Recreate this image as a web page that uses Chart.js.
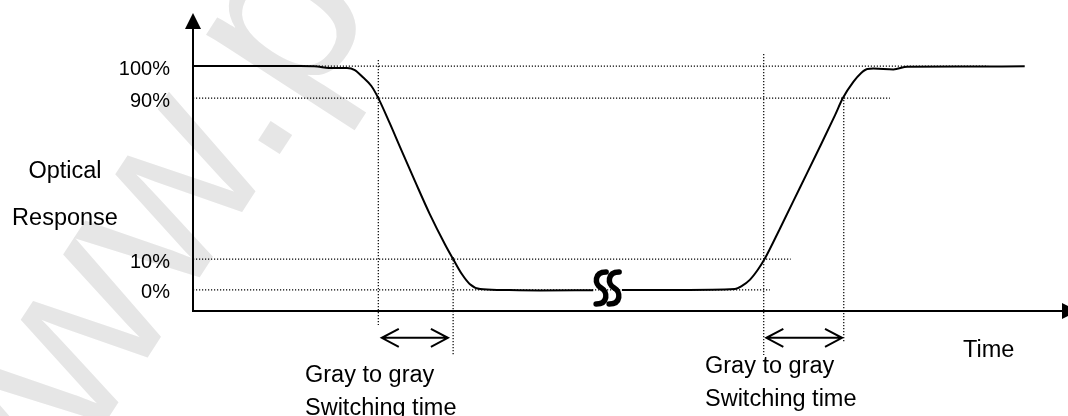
<!DOCTYPE html>
<html lang="en">
<head>
<meta charset="UTF-8">
<title>Optical response - gray to gray switching time</title>
<script src="https://cdn.jsdelivr.net/npm/chart.js@4/dist/chart.umd.min.js"></script>
<style>
    html, body { margin: 0; padding: 0; background: #fff; }
    #wrap { width: 1068px; height: 416px; position: relative; }
</style>
</head>
<body>
<div id="wrap"><canvas id="chartResponse"></canvas></div>
<script>
    // time in arbitrary units (0..100), response in diagram units (not to scale)
    const timeX = [0, 6.6, 12.3, 14.3, 15.6, 17.7, 18.6, 19.5, 20.5, 21.3, 22.6, 23.8, 25.5, 27.2, 29.0, 29.9, 30.9, 31.8, 33.0, 35.3, 39.9, 46.0,
                   47.6,
                   49.3, 56.0, 62.3, 63.1, 64.0, 64.9, 65.7, 67.5, 69.8, 72.1, 73.8, 74.7, 75.9, 76.8, 77.5, 78.2, 80.5, 82.1, 88.2, 95.6];
    const response = [100, 100, 100, 99.8, 99.1, 99.1, 98.2, 95.1, 91.1, 85.7, 74.6, 63.8, 48.7, 34, 20.1, 13.8, 7.1, 2.7, 0.4, 0, -0.2, -0.1,
                   null,
                   0, 0, 0.4, 1.8, 4.5, 8.9, 13.8, 27.7, 46, 64.3, 78.1, 85.7, 92.9, 96.9, 98.7, 98.9, 98.5, 99.7, 99.8, 99.9];

    // reference levels (position on the diagram) and their labels
    const levelPos = [100, 85.7, 13.8, 0];
    const levelLabels = ['100%', '90%', '10%', '0%'];
    const levelFrom = [11.7, 0, 0, 0];
    const levelTo = [91.4, 80.1, 68.7, 66.3];

    // vertical marker lines (time) and their extent
    const markX = [21.3, 29.9, 65.6, 74.8];
    const markTop = [102.7, 14.7, 105.4, 86.2];
    const markBottom = [-15.6, -29, -29, -23.7];

    // switching time spans (double arrows)
    const spanFrom = [21.7, 65.9];
    const spanTo = [29.3, 74.6];
    const spanLevel = -21.4;
    const breakAt = 47.6;

    const FONT = '"Liberation Sans", Arial, sans-serif';

    const curve = timeX.map((t, i) => ({ x: t, y: response[i] }));

    const dotted = {
        borderColor: '#000',
        borderWidth: 1.2,
        borderDash: [1.2, 1.8],
        pointRadius: 0,
        clip: false,
        tension: 0
    };
    const levelSets = levelPos.map((v, i) => Object.assign({
        data: [{ x: levelFrom[i], y: v }, { x: levelTo[i], y: v }]
    }, dotted));
    const markSets = markX.map((t, i) => Object.assign({
        data: [{ x: t, y: markTop[i] }, { x: t, y: markBottom[i] }]
    }, dotted));

    const decorations = {
        id: 'decorations',
        beforeDraw(chart) {
            const ctx = chart.ctx;
            ctx.save();
            ctx.fillStyle = '#fff';
            ctx.fillRect(0, 0, chart.width, chart.height);
            // watermark
            ctx.translate(283, 127);
            ctx.rotate(-57 * Math.PI / 180);
            ctx.font = '240px ' + FONT;
            ctx.fillStyle = '#e6e6e6';
            ctx.textBaseline = 'alphabetic';
            const pre = ctx.measureText('www').width + ctx.measureText('.').width / 2;
            ctx.fillText('www.p', -pre, 12);
            ctx.restore();
        },
        afterDraw(chart) {
            const ctx = chart.ctx;
            const a = chart.chartArea;
            const xs = chart.scales.x, ys = chart.scales.y;
            ctx.save();
            ctx.fillStyle = '#000';
            ctx.strokeStyle = '#000';

            // axis arrowheads
            ctx.beginPath();
            ctx.moveTo(a.left, a.top - 15);
            ctx.lineTo(a.left - 8, a.top + 1);
            ctx.lineTo(a.left + 8, a.top + 1);
            ctx.closePath();
            ctx.fill();
            ctx.beginPath();
            ctx.moveTo(a.right + 15, a.bottom);
            ctx.lineTo(a.right - 1, a.bottom - 8);
            ctx.lineTo(a.right - 1, a.bottom + 8);
            ctx.closePath();
            ctx.fill();

            // double arrows for switching time
            ctx.lineWidth = 2;
            const ay = ys.getPixelForValue(spanLevel);
            spanFrom.forEach((t, i) => {
                const x1 = xs.getPixelForValue(t), x2 = xs.getPixelForValue(spanTo[i]);
                ctx.beginPath();
                ctx.moveTo(x1, ay); ctx.lineTo(x2, ay);
                ctx.moveTo(x1 + 17, ay - 9); ctx.lineTo(x1, ay); ctx.lineTo(x1 + 17, ay + 9);
                ctx.moveTo(x2 - 17, ay - 9); ctx.lineTo(x2, ay); ctx.lineTo(x2 - 17, ay + 9);
                ctx.stroke();
            });

            // break mark on the flat part
            const bx = xs.getPixelForValue(breakAt), by = ys.getPixelForValue(0) - 2;
            ctx.lineWidth = 5.5;
            ctx.lineCap = 'round';
            [bx - 6, bx + 7].forEach(cx => {
                ctx.beginPath();
                ctx.moveTo(cx + 5, by - 16);
                ctx.bezierCurveTo(cx - 7, by - 16, cx - 7, by - 4, cx, by);
                ctx.bezierCurveTo(cx + 7, by + 4, cx + 7, by + 16, cx - 5, by + 16);
                ctx.stroke();
            });

            // texts
            ctx.font = '23.5px ' + FONT;
            ctx.textBaseline = 'alphabetic';
            ctx.textAlign = 'center';
            ctx.fillText('Optical', 65, 178);
            ctx.fillText('Response', 65, 225);
            ctx.textAlign = 'left';
            ctx.fillText('Time', 963, 357);
            ctx.fillText('Gray to gray', 305, 382);
            ctx.fillText('Switching time', 305, 415);
            ctx.fillText('Gray to gray', 705, 373);
            ctx.fillText('Switching time', 705, 406);
            ctx.restore();
        }
    };

    new Chart(document.getElementById('chartResponse'), {
        type: 'line',
        data: {
            datasets: [
                {
                    data: curve,
                    borderColor: '#000',
                    borderWidth: 2,
                    pointRadius: 0,
                    spanGaps: false,
                    cubicInterpolationMode: 'monotone',
                    clip: false
                },
                ...levelSets,
                ...markSets
            ]
        },
        options: {
            responsive: true,
            maintainAspectRatio: false,
            animation: false,
            events: [],
            layout: { padding: { left: 0, top: 28, right: 5, bottom: 105 } },
            plugins: { legend: { display: false }, tooltip: { enabled: false } },
            scales: {
                x: {
                    type: 'linear',
                    min: 0,
                    max: 100,
                    afterFit(s) { s.height = 0; s.paddingLeft = 0; s.paddingRight = 0; },
                    ticks: { display: false },
                    grid: { display: false, drawTicks: false },
                    border: { display: true, color: '#000', width: 2 }
                },
                y: {
                    type: 'linear',
                    min: -9.4,
                    max: 117,
                    afterFit(s) { s.width = 193; s.paddingTop = 0; s.paddingBottom = 0; },
                    afterBuildTicks(s) { s.ticks = levelPos.map(v => ({ value: v })); },
                    ticks: {
                        padding: 23,
                        color: '#000',
                        labelOffset: 3,
                        autoSkip: false,
                        font: { family: FONT, size: 20 },
                        callback: (v, i) => levelLabels[i]
                    },
                    grid: { display: false, drawTicks: false },
                    border: { display: true, color: '#000', width: 2 }
                }
            }
        },
        plugins: [decorations]
    });
</script>
</body>
</html>
